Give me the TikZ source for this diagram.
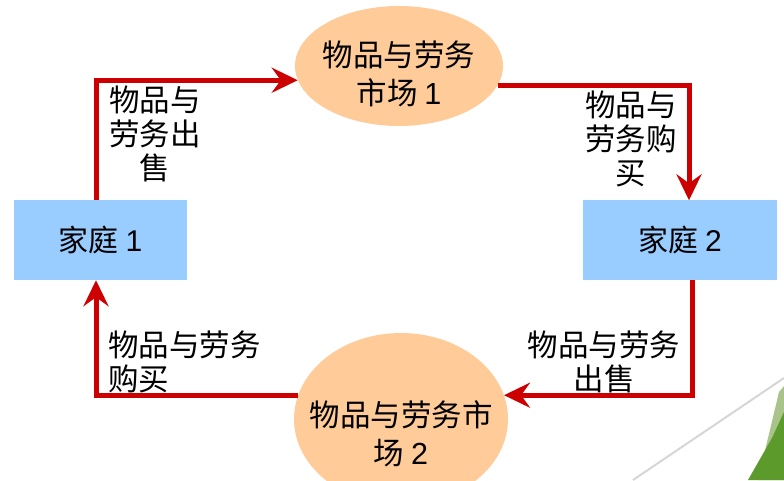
\documentclass[tikz,border=0pt]{standalone}
\usepackage{fontspec}
\newfontfamily\cjk{Noto Sans CJK SC}
\newfontfamily\lib{Liberation Sans}
\usetikzlibrary{arrows.meta,shapes.geometric}
\definecolor{arrred}{HTML}{CC0000}
\definecolor{boxblue}{HTML}{99CCFF}
\definecolor{peach}{HTML}{FFCC99}
\definecolor{decogray}{HTML}{D6D6D6}
\definecolor{decogreen}{HTML}{5C9A2C}
\definecolor{decolight}{HTML}{A9C48A}
\begin{document}
\begin{tikzpicture}[x=1pt,y=1pt,
  hbox/.style={rectangle, fill=boxblue, inner sep=0pt, font=\cjk\fontsize{30}{34}\selectfont},
  market/.style={ellipse, fill=peach, inner sep=0pt},
  mtext/.style={align=center, inner sep=0pt, font=\cjk\fontsize{30.5}{38}\selectfont},
  lbl/.style={inner sep=0pt, font=\cjk\fontsize{30.5}{34}\selectfont},
  arr/.style={draw=arrred, line width=5pt, -{Stealth[length=26pt,width=25pt,inset=9pt]}}]
\useasboundingbox (0,0) rectangle (784,480);
% decoration
\fill[decolight] (758,480-480) -- (779,480-392) -- (784,480-386) -- (784,0) -- cycle;
\fill[decogreen] (748,0) -- (772,480-438) -- (784,480-412) -- (784,0) -- cycle;
\draw[decogray, line width=2pt] (633,0) -- (784,102);
% nodes
\node[hbox, minimum width=173pt, minimum height=80pt] (b1) at (100.5,240) {家庭 {\lib 1}};
\node[hbox, minimum width=194pt, minimum height=79pt] (b2) at (680,240) {家庭 {\lib 2}};
\node[market, minimum width=208pt, minimum height=120pt] (m1) at (399,414) {};
\node[mtext] (m1t) at (399,406.5) {物品与劳务\\市场 {\lib 1}};
\node[market, minimum width=214pt, minimum height=172pt] (m2) at (401,61) {};
\node[mtext] (m2t) at (401,46.5) {物品与劳务市\\场 {\lib 2}};
% connectors
\draw[arr] ([xshift=-4.5pt]b1.north) |- (m1.188);
\draw[arr] (m1.-11) -| ([xshift=9pt]b2.north);
\draw[arr] ([xshift=12pt]b2.south) |- (m2.13);
\draw[arr] (m2.167) -| ([xshift=-4.5pt]b1.south);
% labels
\node[lbl, align=center] (l1) at (155,346) {物品与\\劳务出\\售};
\node[lbl, align=center] (l2) at (631,341) {物品与\\劳务购\\买};
\node[lbl, align=left, anchor=west] (l3) at (108,118.5) {物品与劳务\\购买};
\node[lbl, align=center] (l4) at (604,118.5) {物品与劳务\\出售};
\end{tikzpicture}
\end{document}
